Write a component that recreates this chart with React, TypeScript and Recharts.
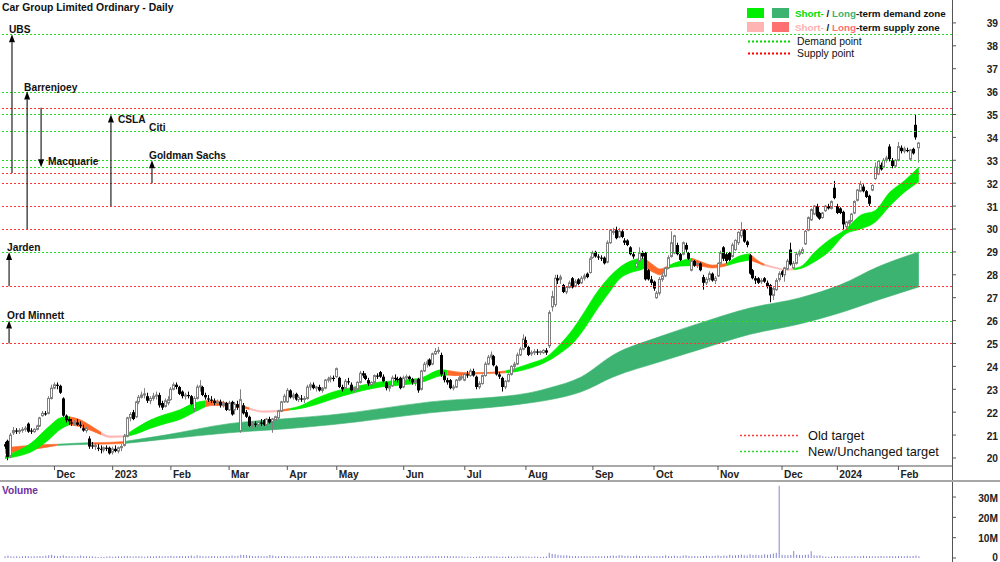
import React from 'react';
import { ComposedChart, Bar, Area, XAxis, YAxis, ReferenceLine } from 'recharts';

type Candle = [number, number, number, number]; // open, high, low, close

const nov22: Candle[] = [
  [20.6,20.7,20.4,20.5],[20.75,20.8,19.9,20.05],[20.1,21.1,20.0,21.0],[21.1,21.35,21.0,21.2],
  [21.2,21.3,21.05,21.15],[21.15,21.3,21.05,21.2],[21.2,21.35,21.1,21.25],[21.25,21.4,21.15,21.3],
  [21.5,21.55,21.1,21.15],[21.2,21.3,21.05,21.15],[21.15,21.3,21.1,21.25],[21.25,21.45,21.2,21.4],
  [21.4,21.8,21.35,21.75],[21.85,22.05,21.8,21.95],[21.95,22.05,21.85,21.9],[21.95,22.7,21.9,22.6],
  [22.6,23.2,22.55,23.05],
];
const dec22: Candle[] = [
  [23.05,23.3,23.0,23.2],[23.2,23.3,23.0,23.15],[23.15,23.2,22.8,22.85],[22.6,22.65,21.8,21.85],
  [21.85,21.9,21.55,21.65],[21.7,21.8,21.45,21.6],[21.55,21.7,21.4,21.5],[21.5,21.65,21.4,21.55],
  [21.55,21.7,21.4,21.45],[21.45,21.6,21.3,21.4],[21.3,21.45,21.15,21.2],[21.2,21.35,21.1,21.3],
  [20.85,20.95,20.4,20.5],[20.55,20.7,20.4,20.5],[20.5,20.65,20.35,20.55],[20.45,20.6,20.3,20.4],
  [20.4,20.55,20.2,20.35],[20.35,20.5,20.25,20.45],[20.45,20.55,20.3,20.4],[20.45,20.5,20.15,20.2],
];
const jan23: Candle[] = [
  [20.25,20.5,20.15,20.4],[20.4,20.55,20.25,20.3],[20.3,20.5,20.2,20.45],[20.45,20.6,20.3,20.5],
  [20.55,21.05,20.5,20.95],[20.95,21.8,20.9,21.75],[21.75,22.0,21.6,21.9],[22.0,22.1,21.65,21.7],
  [21.8,22.5,21.75,22.45],[22.45,22.75,22.35,22.65],[22.65,22.9,22.6,22.75],[22.75,23.05,22.6,22.8],
  [22.7,22.85,22.4,22.5],[22.5,22.7,22.35,22.6],[22.6,22.85,22.5,22.7],[22.7,22.9,22.55,22.75],
  [22.75,22.85,22.2,22.3],[22.4,22.5,22.1,22.2],[22.25,22.6,22.2,22.5],[22.4,22.7,22.3,22.55],
];
const feb23: Candle[] = [
  [22.55,23.1,22.5,23.0],[23.0,23.3,22.95,23.2],[23.2,23.3,23.0,23.1],[23.1,23.15,22.75,22.8],
  [22.9,22.95,22.6,22.7],[22.7,22.85,22.55,22.75],[22.75,22.9,22.6,22.7],[22.7,22.75,22.3,22.35],
  [22.15,22.7,22.0,22.6],[22.6,23.2,22.55,23.1],[23.1,23.4,22.9,23.15],[23.1,23.15,22.7,22.75],
  [22.75,22.85,22.55,22.65],[22.6,22.75,22.45,22.55],[22.55,22.7,22.4,22.5],[22.5,22.6,22.3,22.4],
  [22.4,22.55,22.3,22.45],[22.45,22.55,22.2,22.3],[22.3,22.5,22.2,22.4],[22.4,22.45,22.05,22.1],
];
const mar23: Candle[] = [
  [22.1,22.5,22.05,22.4],[22.45,22.5,21.85,21.9],[22.1,22.45,21.9,22.35],[22.35,22.5,22.1,22.2],
  [21.2,23.0,21.1,22.55],[22.3,22.4,21.9,21.95],[22.0,22.1,21.75,21.8],[21.8,21.85,21.35,21.4],
  [21.45,21.6,21.3,21.5],[21.5,21.6,21.35,21.45],[21.45,21.6,21.35,21.55],[21.55,21.7,21.4,21.5],
  [21.65,21.7,21.4,21.45],[21.45,21.75,21.4,21.7],[21.7,21.8,21.5,21.55],[21.55,21.75,21.1,21.7],
  [21.65,21.85,21.6,21.8],[21.75,22.1,21.7,22.05],[22.05,22.5,22.0,22.45],[22.45,22.8,22.4,22.7],
];
const apr23: Candle[] = [
  [22.45,23.05,22.4,22.95],[22.95,23.0,22.6,22.65],[22.65,22.85,22.55,22.75],[22.8,22.85,22.5,22.55],
  [22.55,22.75,22.45,22.65],[22.6,22.75,22.45,22.55],[22.55,22.7,22.4,22.6],[22.6,23.2,22.55,23.1],
  [23.1,23.3,22.95,23.2],[23.2,23.3,23.0,23.05],[23.05,23.15,22.9,23.1],[23.1,23.2,22.9,22.95],
  [22.95,23.1,22.85,23.05],[23.05,23.45,23.0,23.4],[23.4,23.55,23.3,23.45],[23.45,23.6,23.3,23.5],
  [23.5,23.6,23.35,23.45],
];
const may23: Candle[] = [
  [23.55,23.95,23.5,23.9],[23.5,23.55,23.05,23.1],[23.1,23.2,22.9,23.0],[23.05,23.45,23.0,23.35],
  [23.35,23.5,23.2,23.3],[23.2,23.3,22.9,22.95],[22.95,23.1,22.85,23.0],[23.0,23.35,22.95,23.3],
  [23.3,23.8,23.25,23.7],[23.7,23.8,23.5,23.6],[23.6,23.7,23.4,23.45],[23.4,23.5,23.15,23.25],
  [23.2,23.35,23.1,23.3],[23.3,23.65,23.25,23.6],[23.6,23.7,23.45,23.55],[23.75,23.8,23.5,23.55],
  [23.55,23.65,23.3,23.35],[23.3,23.35,22.95,23.05],[23.05,23.25,22.9,23.15],[23.15,23.6,23.1,23.5],
  [23.5,23.65,23.35,23.45],[23.45,23.55,23.3,23.4],[23.5,23.55,23.0,23.05],
];
const jun23: Candle[] = [
  [23.1,23.6,23.05,23.5],[23.5,23.65,23.4,23.55],[23.55,23.6,23.35,23.45],[23.45,23.5,23.2,23.3],
  [23.3,23.45,23.15,23.4],[23.45,23.5,22.85,22.95],[23.0,23.85,22.95,23.8],[23.8,24.2,23.75,24.1],
  [24.1,24.3,23.95,24.2],[24.3,24.35,24.0,24.05],[24.1,24.6,24.05,24.55],[24.55,24.8,24.5,24.65],
  [24.65,24.85,24.55,24.7],[24.5,24.6,23.55,23.65],[23.6,23.75,23.3,23.4],[23.4,23.5,23.2,23.3],
  [23.4,23.45,23.0,23.05],[23.05,23.2,22.95,23.1],[23.1,23.45,23.05,23.4],[23.4,23.6,23.35,23.5],
  [23.5,23.65,23.4,23.55],
];
const jul23: Candle[] = [
  [23.4,23.7,23.35,23.65],[23.65,23.8,23.5,23.6],[23.6,23.9,23.55,23.8],[23.8,23.9,23.55,23.6],
  [23.55,23.6,23.0,23.1],[23.1,23.35,23.0,23.25],[23.25,23.65,23.2,23.6],[23.6,24.2,23.55,24.1],
  [24.1,24.5,24.05,24.4],[24.4,24.65,24.3,24.5],[24.45,24.5,24.0,24.05],[24.0,24.05,23.6,23.65],
  [23.65,23.75,23.45,23.55],[23.5,23.55,22.9,23.1],[23.1,23.4,23.0,23.35],[23.35,23.7,23.3,23.65],
  [23.65,24.05,23.6,24.0],[24.0,24.2,23.85,24.1],[24.1,24.6,24.05,24.5],[24.5,24.85,24.45,24.75],
  [24.75,25.4,24.7,25.2],
];
const aug23: Candle[] = [
  [25.15,25.3,24.8,24.85],[24.85,24.9,24.45,24.5],[24.55,24.7,24.45,24.6],[24.6,24.75,24.5,24.65],
  [24.65,24.75,24.5,24.6],[24.6,24.7,24.5,24.65],[24.6,24.75,24.55,24.7],[24.7,24.8,24.5,24.6],
  [24.9,26.45,24.8,26.35],[26.6,27.3,26.4,27.05],[26.7,28.0,26.6,27.85],[27.85,28.0,27.6,27.75],
  [27.8,28.0,27.6,27.9],[27.55,27.6,27.2,27.25],[27.25,27.5,27.15,27.45],[27.45,27.75,27.4,27.65],
  [27.85,27.9,27.4,27.45],[27.5,27.8,27.45,27.7],[27.8,27.85,27.55,27.6],[27.65,27.95,27.6,27.85],
  [27.85,28.05,27.75,27.95],[28.05,28.1,27.85,27.9],[28.1,28.8,28.05,28.7],
];
const sep23: Candle[] = [
  [28.75,29.05,28.7,28.95],[29.0,29.05,28.75,28.8],[28.8,28.9,28.65,28.75],[28.75,28.85,28.6,28.7],
  [28.75,28.8,28.45,28.5],[28.55,29.5,28.5,29.4],[29.4,30.0,29.35,29.95],[29.85,30.05,29.75,29.9],
  [29.95,30.1,29.55,29.6],[29.65,30.05,29.6,29.9],[29.9,29.95,29.6,29.65],[29.5,29.6,29.3,29.4],
  [29.5,29.55,29.25,29.3],[29.2,29.25,28.85,28.9],[28.9,29.0,28.7,28.8],[28.35,28.55,28.3,28.5],
  [28.6,29.2,28.55,28.95],[28.95,29.05,28.7,28.8],[28.95,29.0,27.75,27.8],[28.2,28.25,27.75,27.8],
  [27.8,27.95,27.55,27.65],
];
const oct23: Candle[] = [
  [27.7,27.75,27.3,27.4],[27.0,27.3,26.95,27.2],[27.2,27.9,27.1,27.8],[27.8,28.1,27.7,27.95],
  [27.95,28.35,27.9,28.3],[28.3,28.85,28.25,28.75],[28.8,29.9,28.75,29.4],[28.95,29.75,28.9,29.7],
  [29.3,29.4,28.85,28.9],[28.9,28.95,28.6,28.65],[28.9,29.45,28.85,29.4],[29.3,29.4,29.0,29.1],
  [28.95,29.0,28.65,28.7],[28.2,28.7,28.15,28.6],[28.6,28.65,28.35,28.4],[28.45,28.6,28.3,28.5],
  [28.5,28.55,28.15,28.2],[27.9,28.0,27.35,27.65],[27.65,27.9,27.55,27.8],[27.8,28.15,27.7,28.05],
  [28.05,28.1,27.7,27.75],[27.75,27.95,27.6,27.85],
];
const nov23: Candle[] = [
  [27.95,28.55,27.9,28.5],[28.5,29.05,28.45,28.95],[29.2,29.25,28.6,28.7],[28.9,28.95,28.5,28.6],
  [28.95,29.0,28.6,28.65],[28.8,29.4,28.75,29.3],[29.1,29.55,29.05,29.5],[29.4,29.9,29.3,29.85],
  [29.7,30.3,29.6,29.95],[29.95,30.0,29.4,29.45],[29.45,29.5,29.2,29.3],[28.85,28.9,28.0,28.05],
  [28.2,28.25,27.8,27.85],[27.85,27.95,27.6,27.75],[27.85,27.9,27.6,27.65],[27.7,27.85,27.6,27.75],
  [27.85,27.9,27.65,27.7],[27.65,27.75,27.4,27.5],[27.55,27.6,26.8,27.1],[27.1,27.5,26.9,27.4],
  [27.35,27.85,27.3,27.75],[27.8,28.15,27.7,28.05],
];
const dec23: Candle[] = [
  [28.15,28.2,27.9,28.0],[28.0,28.35,27.7,28.3],[28.25,28.7,28.2,28.6],[29.1,29.4,28.4,28.45],
  [28.3,28.6,28.25,28.5],[28.5,29.0,28.45,28.9],[28.9,29.1,28.8,29.0],[28.95,29.2,28.9,29.1],
  [29.35,29.95,29.3,29.9],[29.95,30.55,29.9,30.5],[30.4,30.9,30.35,30.85],[30.65,31.05,30.6,31.0],
  [31.0,31.1,30.5,30.55],[30.7,30.75,30.4,30.45],[30.5,30.75,30.45,30.7],[30.8,31.05,30.75,31.0],
  [31.0,31.1,30.85,30.9],[30.9,31.25,30.85,31.2],[31.8,32.1,31.3,31.35],
];
const jan24: Candle[] = [
  [31.0,31.1,30.65,30.7],[30.9,30.95,30.65,30.7],[30.75,30.8,29.95,30.2],[30.1,30.35,30.0,30.3],
  [30.25,30.4,30.1,30.35],[30.35,30.7,30.3,30.65],[30.7,31.25,30.65,31.2],[31.25,31.75,31.2,31.7],
  [31.65,32.1,31.6,31.95],[31.85,31.95,31.6,31.65],[31.65,31.7,31.35,31.4],[31.45,31.5,31.0,31.1],
  [31.7,31.95,31.65,31.9],[32.2,32.9,32.15,32.7],[32.4,33.0,32.35,32.95],[32.8,32.9,32.55,32.6],
  [32.7,33.1,32.65,33.0],[33.0,33.2,32.9,33.1],[33.6,33.7,32.95,33.05],[33.0,33.1,32.65,32.75],
  [32.75,33.05,32.7,33.0],
];
const feb24: Candle[] = [
  [33.0,33.8,32.95,33.6],[33.55,33.65,33.3,33.4],[33.4,33.6,33.3,33.5],[33.45,33.55,33.35,33.4],
  [33.05,33.5,33.0,33.45],[33.5,33.55,33.25,33.3],[34.55,35.0,33.9,34.0],[33.55,33.8,32.9,33.75],
];

const candleMonths = [nov22, dec22, jan23, feb23, mar23, apr23, may23, jun23, jul23, aug23, sep23, oct23, nov23, dec23, jan24, feb24];
const monthLabels = ['', 'Dec', '2023', 'Feb', 'Mar', 'Apr', 'May', 'Jun', 'Jul', 'Aug', 'Sep', 'Oct', 'Nov', 'Dec', '2024', 'Feb'];

// volumes in millions of shares
const volNov22 = [0.8,1.2,0.9,0.7,0.8,0.6,0.9,1.0,0.8,0.7,0.9,0.8,1.0,0.9,1.1,1.3,1.6];
const volDec22 = [1.1,0.9,1.0,1.4,1.0,0.8,0.9,0.7,0.8,1.2,0.9,0.8,0.7,0.9,0.6,0.5,0.6,0.5,0.7,0.8];
const volJan23 = [0.6,0.7,0.8,0.7,0.9,1.0,0.8,0.7,0.9,0.8,0.7,0.6,0.8,0.9,0.7,0.8,1.0,0.9,0.8,0.9];
const volFeb23 = [1.1,0.9,0.8,1.0,0.9,0.8,1.0,1.2,0.9,1.3,1.1,0.9,0.8,0.9,1.0,0.8,0.7,0.9,0.8,1.0];
const volMar23 = [0.9,1.2,1.0,1.1,1.6,1.5,1.4,1.2,1.0,0.9,1.1,0.9,0.8,1.0,1.5,1.2,0.9,0.8,0.9,1.0];
const volApr23 = [0.8,0.9,0.7,0.8,0.9,0.7,0.8,1.0,0.9,0.8,0.7,0.9,0.8,0.7,0.9,0.8,1.0];
const volMay23 = [0.9,0.8,0.7,0.9,0.8,0.7,0.8,0.6,0.9,0.8,0.7,0.8,0.9,0.7,0.8,0.6,0.7,0.8,0.9,0.8,0.7,0.8,0.9];
const volJun23 = [0.7,0.8,0.9,0.8,0.7,1.0,0.8,0.9,1.1,0.9,0.8,1.0,0.9,0.8,0.9,1.0,0.8,0.9,0.8,0.7,0.9];
const volJul23 = [0.6,0.7,0.6,0.5,0.6,0.7,0.8,0.7,0.9,0.8,0.7,0.8,0.6,0.7,0.6,0.8,0.7,0.6,0.7,0.8,0.7];
const volAug23 = [0.6,0.7,0.6,0.7,0.6,0.5,0.6,0.7,2.6,2.0,1.8,1.5,1.3,1.2,1.4,1.1,0.9,1.0,0.9,0.8,1.0,0.9,0.8];
const volSep23 = [0.9,1.0,0.8,0.9,0.8,1.0,1.1,1.2,1.0,1.3,1.4,1.0,1.1,0.9,1.0,1.2,1.0,0.9,1.0,1.1,0.9];
const volOct23 = [1.0,0.9,0.8,1.0,1.3,1.0,0.9,1.1,0.8,0.9,1.2,1.3,1.0,0.9,1.0,0.8,0.9,1.0,1.1,0.9,1.0,1.1];
const volNov23 = [1.3,1.0,1.2,1.1,1.6,1.2,1.3,1.5,1.7,1.4,1.2,1.9,1.5,1.6,1.3,1.4,1.8,1.6,1.9,2.2,2.6,35.5];
const volDec23 = [1.6,1.3,1.4,1.5,3.4,1.6,1.5,1.4,1.6,1.7,3.3,1.4,1.2,1.3,0.8,0.7,0.6,0.7,0.9];
const volJan24 = [0.8,0.7,0.9,0.8,0.7,0.9,1.0,0.8,0.9,1.1,0.9,1.0,0.9,0.8,0.9,1.0,0.8,0.9,1.0,0.9,0.8];
const volFeb24 = [1.0,0.9,0.8,1.1,0.9,1.0,1.2,0.8];
const volumeMonths = [volNov22, volDec22, volJan23, volFeb23, volMar23, volApr23, volMay23, volJun23, volJul23, volAug23, volSep23, volOct23, volNov23, volDec23, volJan24, volFeb24];

const priceTicks = [20,21,22,23,24,25,26,27,28,29,30,31,32,33,34,35,36,37,38,39];
const volumeTicks = [0, 10e6, 20e6, 30e6];
const volumeTickLabels = ['0', '10M', '20M', '30M'];

// broker targets
const demandTargets = [38.5, 36, 35, 34.3, 33, 32.7, 29, 26];
const supplyTargets = [35.3, 32.45, 32, 31, 30, 27.5, 25];
const brokerNames = ['UBS', 'Barrenjoey', 'Macquarie', 'CSLA', 'Citi', 'Goldman Sachs', 'Jarden', 'Ord Minnett'];
const brokerDay = [2.4, 7.6, 12.4, 36.4, 49.5, 50.5, 1.4, 1.4];
const brokerOld = [32.45, 30, 35.3, 31, 34.3, 32, 27.5, 25];
const brokerNew = [38.5, 36, 32.7, 35, 34.3, 33, 29, 26];

// GMMA bands: [day index, lower, upper]
const shortBand: [number, number, number][] = [
  [0,19.98,20.08],[5,20.1,20.35],[9,20.27,20.65],[15,20.8,21.36],[19,21.25,21.75],[22,21.45,21.8],
  [26,21.36,21.66],[30,21.18,21.36],[33,21.02,21.12],[36,20.9,20.96],[41,20.92,20.97],[45,21.05,21.3],
  [50,21.3,21.66],[55,21.5,21.9],[60,21.68,22.1],[65,22.0,22.4],[69,22.25,22.5],[72,22.3,22.5],
  [77,22.25,22.38],[81,22.2,22.3],[84,22.12,22.18],[89,22.0,22.05],[94,22.02,22.08],[98,22.1,22.16],
  [101,22.15,22.25],[106,22.3,22.55],[112,22.55,22.85],[120,22.85,23.1],[129,23.1,23.32],[137,23.2,23.4],
  [143,23.3,23.5],[150,23.6,23.85],[152,23.62,23.82],[155,23.6,23.76],[160,23.66,23.72],[167,23.7,23.74],
  [172,23.72,23.8],[175,23.76,23.9],[181,23.95,24.15],[186,24.2,24.4],[191,24.6,25.0],[195,25.0,25.6],
  [198,25.46,26.16],[204,26.6,27.34],[208,27.3,27.95],[211,27.8,28.3],[215,28.1,28.6],[218,28.2,28.7],
  [220,28.3,28.7],[223,28.1,28.4],[225,28.0,28.25],[228,28.3,28.4],[232,28.38,28.6],[236,28.4,28.72],
  [239,28.38,28.58],[243,28.3,28.42],[248,28.4,28.5],[252,28.55,28.8],[256,28.65,28.92],[258,28.55,28.68],
  [261,28.4,28.46],[265,28.28,28.32],[268,28.2,28.24],[271,28.22,28.28],[274,28.3,28.4],[278,28.56,28.96],
  [283,29.0,29.5],[289,29.8,30.0],[294,30.0,30.6],[299,30.3,30.8],[304,31.0,31.6],[309,31.6,32.1],
  [314,32.06,32.7],
];
const shortSegments: [number, number, string][] = [
  [0,22,'g'],[22,33,'o'],[33,41,'p'],[41,69,'g'],[69,84,'o'],[84,94,'p'],[94,98,'o'],[98,152,'g'],
  [152,172,'o'],[172,220,'g'],[220,228,'o'],[228,236,'g'],[236,248,'o'],[248,256,'g'],[256,261,'o'],
  [261,271,'p'],[271,314,'g'],
];
const longBand: [number, number, number][] = [
  [0,20.2,20.45],[10,20.38,20.56],[18,20.55,20.6],[24,20.58,20.64],[29,20.6,20.67],[35,20.61,20.68],
  [41,20.63,20.72],[55,20.82,21.0],[77,21.1,21.5],[97,21.28,21.72],[112,21.45,21.88],[146,21.97,22.45],
  [180,22.4,22.84],[187,22.54,23.06],[198,22.89,23.54],[209,23.54,24.5],[225,24.2,25.3],[239,24.75,25.9],
  [256,25.4,26.55],[273,25.85,26.99],[287,26.34,27.56],[300,26.9,28.35],[314,27.47,29.0],
];
const longSegments: [number, number, string][] = [[0,18,'o'],[18,29,'G'],[29,41,'o'],[41,314,'G']];

// ---- styling ----
const FONT = "'Liberation Sans', Arial, Helvetica, sans-serif";
const bandColor: Record<string, string> = { g: '#00ee00', o: '#ff6a2a', p: '#ffb8b8', G: '#3cb371' };
const labelOffset: Record<string, [number, number]> = {
  UBS: [-3, -1], Barrenjoey: [-3, -1], Macquarie: [7, -2], CSLA: [7, 9], Citi: [0, 0.5],
  'Goldman Sachs': [-3, -1], Jarden: [-2, -1], 'Ord Minnett': [-2, -2],
};
const X_DOMAIN: [number, number] = [-1.72, 325.4];

// ---- build table ----
const rows: any[] = [];
const monthStart: number[] = [];
candleMonths.forEach((m, mi) => {
  monthStart.push(rows.length);
  m.forEach((c, k) => {
    const idx = rows.length;
    rows.push({ i: idx, o: c[0], h: c[1], l: c[2], c: c[3], range: [c[2], c[1]], vol: volumeMonths[mi][k] * 1e6 });
  });
});
shortSegments.forEach(([a, b], k) => {
  shortBand.forEach(([i, lo, hi]) => { if (i >= a && i <= b && rows[i]) rows[i]['s' + k] = [lo, hi]; });
});
longSegments.forEach(([a, b], k) => {
  longBand.forEach(([i, lo, hi]) => { if (i >= a && i <= b && rows[i]) rows[i]['L' + k] = [lo, hi]; });
});
const monthTicks = monthStart.slice(1);
const tickLabel: Record<number, string> = {};
monthStart.forEach((s, mi) => { tickLabel[s] = monthLabels[mi]; });

const CandleShape = (props: any) => {
  const { x, y, width, height, payload } = props;
  if (!payload || x == null || y == null) return <g />;
  const { o, h, l, c } = payload;
  const top = Math.min(y, y + height);
  const bot = Math.max(y, y + height);
  const ppu = h > l ? (bot - top) / (h - l) : 0;
  const yv = (v: number) => top + (h - v) * ppu;
  const cx = Math.round(x + width / 2) + 0.5;
  const up = c >= o;
  const bTop = yv(Math.max(o, c));
  const bh = Math.max(1, yv(Math.min(o, c)) - bTop);
  return (
    <g>
      <line x1={cx} x2={cx} y1={top} y2={bot} stroke={up ? '#808080' : '#000'} strokeWidth={1} />
      {up ? (
        <rect x={cx - 1} y={bTop} width={2} height={bh} fill="#fff" stroke="#808080" strokeWidth={1} />
      ) : (
        <rect x={cx - 1.5} y={bTop} width={3} height={bh} fill="#000" />
      )}
    </g>
  );
};

// target line drawn through the library's scale; keeps its own colour
const TargetLine = (color: string) => (p: any) => (
  <line x1={p.x1} y1={Math.round(p.y1) + 0.5} x2={p.x2} y2={Math.round(p.y2) + 0.5}
    stroke={color} strokeWidth={1} strokeDasharray="2 2" />
);

const makeArrow = (name: string) => (p: any) => {
  const { x1, y1, x2, y2 } = p;
  const [dx, dy] = labelOffset[name];
  const hasArrow = Math.abs(y2 - y1) > 1;
  const dir = y2 < y1 ? -1 : 1;
  const headLen = 8;
  const headW = 3;
  return (
    <g>
      {hasArrow && <line x1={x1} y1={y1} x2={x2} y2={y2 - dir * headLen} stroke="#222" strokeWidth={1.2} />}
      {hasArrow && (
        <polygon points={`${x2},${y2} ${x2 - headW},${y2 - dir * headLen} ${x2 + headW},${y2 - dir * headLen}`} fill="#000" />
      )}
      <text x={x2 + dx} y={y2 + dy} fontSize={10.2} fontWeight="bold" fill="#111" fontFamily={FONT}>{name}</text>
    </g>
  );
};

const PriceTick = (p: any) => (
  <text x={998} y={p.y + 4.5} textAnchor="end" fontSize={10.2} fontWeight="bold" fill="#222" fontFamily={FONT}>
    {p.payload.value}
  </text>
);
const VolumeTick = (p: any) => (
  <text x={998} y={Math.min(p.y + 4.5, 78.5)} textAnchor="end" fontSize={10.2} fontWeight="bold" fill="#222" fontFamily={FONT}>
    {volumeTickLabels[volumeTicks.indexOf(p.payload.value)]}
  </text>
);
const MonthTick = (p: any) => (
  <text x={p.x + 2} y={478} fontSize={10.2} fontWeight="bold" fill="#222" fontFamily={FONT}>
    {tickLabel[p.payload.value]}
  </text>
);

export default function App() {
  return (
    <div style={{ position: 'absolute', left: 0, top: 0, width: 1000, height: 562, background: '#fff', fontFamily: FONT, overflow: 'hidden' }}>
      <div style={{ position: 'absolute', left: 0, top: 0 }}>
        <ComposedChart width={1000} height={481} data={rows} margin={{ top: 0, right: 0, bottom: 0, left: 0 }}>
          <XAxis dataKey="i" type="number" domain={X_DOMAIN} allowDataOverflow ticks={monthTicks} interval={0}
            tick={MonthTick} tickSize={4} height={15} stroke="#555" tickLine={{ stroke: '#555' }} />
          <YAxis orientation="right" type="number" domain={[19.65, 40.0]} allowDataOverflow ticks={priceTicks} interval={0}
            width={48} axisLine={false} tickSize={4} tickLine={{ stroke: '#555' }} tick={PriceTick} />
          {demandTargets.map((v, k) => (
            <ReferenceLine key={'demand' + k} y={v} stroke="#00dd00" shape={TargetLine('#22dd22')} />
          ))}
          {supplyTargets.map((v, k) => (
            <ReferenceLine key={'supply' + k} y={v} stroke="#ff2a2a" shape={TargetLine('#ff3333')} />
          ))}
          {longSegments.map(([, , col], k) => (
            <Area key={'L' + k} dataKey={'L' + k} type="monotone" fill={bandColor[col]} fillOpacity={1}
              stroke={bandColor[col]} strokeWidth={0.6} connectNulls dot={false} activeDot={false} isAnimationActive={false} />
          ))}
          {shortSegments.map(([, , col], k) => (
            <Area key={'s' + k} dataKey={'s' + k} type="monotone" fill={bandColor[col]} fillOpacity={1}
              stroke={bandColor[col]} strokeWidth={0.8} connectNulls dot={false} activeDot={false} isAnimationActive={false} />
          ))}
          <Bar dataKey="range" barSize={2} shape={CandleShape} isAnimationActive={false} />
          {brokerNames.map((name, k) => (
            <ReferenceLine key={'broker' + k} segment={[{ x: brokerDay[k], y: brokerOld[k] }, { x: brokerDay[k], y: brokerNew[k] }]}
              stroke="#222" shape={makeArrow(name)} ifOverflow="visible" />
          ))}
        </ComposedChart>
      </div>
      <div style={{ position: 'absolute', left: 0, top: 482 }}>
        <ComposedChart width={1000} height={80} data={rows} margin={{ top: 0, right: 0, bottom: 4, left: 0 }}>
          <XAxis dataKey="i" type="number" domain={X_DOMAIN} allowDataOverflow hide />
          <YAxis orientation="right" type="number" domain={[0, 37.4e6]} allowDataOverflow ticks={volumeTicks} interval={0}
            width={48} axisLine={false} tickSize={4} tickLine={{ stroke: '#555' }} tick={VolumeTick} />
          <Bar dataKey="vol" barSize={1} fill="#8585d6" isAnimationActive={false} />
        </ComposedChart>
      </div>
      <svg width={1000} height={562} style={{ position: 'absolute', left: 0, top: 0, pointerEvents: 'none' }} fontFamily={FONT}>
        <line x1={952.5} y1={0} x2={952.5} y2={562} stroke="#555" strokeWidth={1} />
        <rect x={0} y={480} width={1000} height={2} fill="#a6a6a6" />
        <text x={2} y={11} fontSize={10.4} fontWeight="bold" fill="#111">Car Group Limited Ordinary - Daily</text>
        <rect x={747} y={8} width={17} height={10} fill="#00ee00" />
        <rect x={772} y={8} width={17} height={10} fill="#3cb371" />
        <text x={795} y={17} fontSize={9.8} fontWeight="bold">
          <tspan fill="#00dd00">Short-</tspan><tspan fill="#111"> / </tspan><tspan fill="#3cb371">Long</tspan><tspan fill="#111">-term demand zone</tspan>
        </text>
        <rect x={747} y={22} width={17} height={10} fill="#ffb3b3" />
        <rect x={772} y={22} width={17} height={10} fill="#ff7070" />
        <text x={795} y={31} fontSize={9.8} fontWeight="bold">
          <tspan fill="#ffb0b0">Short-</tspan><tspan fill="#111"> / </tspan><tspan fill="#ff7070">Long</tspan><tspan fill="#111">-term supply zone</tspan>
        </text>
        <line x1={748} y1={41.5} x2={790} y2={41.5} stroke="#00dd00" strokeWidth={2} strokeDasharray="2 2" />
        <text x={797} y={45} fontSize={10.4} fill="#111">Demand point</text>
        <line x1={748} y1={53.5} x2={790} y2={53.5} stroke="#ff0000" strokeWidth={2} strokeDasharray="2 2" />
        <text x={797} y={57} fontSize={10.4} fill="#111">Supply point</text>
        <line x1={740} y1={435.5} x2={800} y2={435.5} stroke="#ff3a3a" strokeWidth={1.5} strokeDasharray="2 2" />
        <text x={808} y={439.5} fontSize={12.8} fill="#111">Old target</text>
        <line x1={740} y1={451.5} x2={800} y2={451.5} stroke="#2ed82e" strokeWidth={1.5} strokeDasharray="2 2" />
        <text x={808} y={455.5} fontSize={12.8} fill="#111">New/Unchanged target</text>
        <text x={2} y={494} fontSize={10.2} fontWeight="bold" fill="#7030a0">Volume</text>
      </svg>
    </div>
  );
}
